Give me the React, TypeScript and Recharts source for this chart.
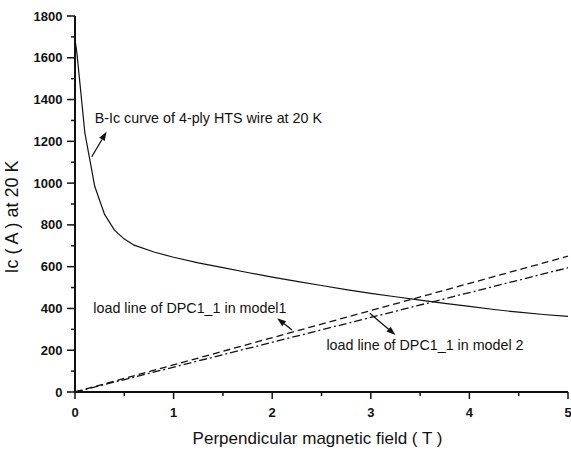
import { Line, LineChart, ReferenceDot, ReferenceLine, XAxis, YAxis } from "recharts";

// B-Ic curve of the 4-ply HTS wire at 20 K
const curveField = [0, 0.02, 0.1, 0.2, 0.3, 0.4, 0.5, 0.6, 0.8, 1.0, 1.25, 1.5, 1.75, 2.0, 2.25, 2.5, 2.75, 3.0, 3.25, 3.5, 3.75, 4.0, 4.25, 4.5, 4.75, 5.0];
const curveIc = [1690, 1620, 1240, 985, 850, 775, 732, 703, 670, 645, 618, 595, 572, 550, 530, 510, 490, 472, 456, 440, 424, 410, 395, 382, 371, 362];

// load lines of DPC1_1
const loadField = [0, 5];
const loadModel1 = [0, 650];
const loadModel2 = [0, 595];

const xTicks = [0, 0.5, 1, 1.5, 2, 2.5, 3, 3.5, 4, 4.5, 5];
const yTicks = [0, 100, 200, 300, 400, 500, 600, 700, 800, 900, 1000, 1100, 1200, 1300, 1400, 1500, 1600, 1700, 1800];

const curveData = curveField.map((field, i) => ({ field, ic: curveIc[i] }));
const model1Data = loadField.map((field, i) => ({ field, ic: loadModel1[i] }));
const model2Data = loadField.map((field, i) => ({ field, ic: loadModel2[i] }));

const notes = [
  { text: "B-Ic curve of 4-ply HTS wire at 20 K", at: [0.2, 1288], from: [0.17, 1126], to: [0.32, 1246] },
  { text: "load line of DPC1_1 in model1", at: [0.186, 380], from: [2.2, 297], to: [2.05, 353] },
  { text: "load line of DPC1_1 in model 2", at: [2.55, 201], from: [2.99, 377], to: [3.25, 273] },
];

const font = "Arial, 'Liberation Sans', sans-serif";
const ink = "#111";

function BottomTick({ x, y, payload }: any) {
  const major = Number.isInteger(payload.value);
  return (
    <g>
      <line x1={x} x2={x} y1={y} y2={y + (major ? 7 : 4)} stroke={ink} strokeWidth={1.5} />
      {major && (
        <text x={x} y={y + 25} textAnchor="middle" fontFamily={font} fontWeight="bold" fontSize={13} fill={ink}>
          {payload.value}
        </text>
      )}
    </g>
  );
}

function TopTick({ x, y, payload }: any) {
  const major = Number.isInteger(payload.value);
  return <line x1={x} x2={x} y1={y} y2={y + (major ? 7 : 4)} stroke={ink} strokeWidth={1.2} />;
}

function LeftTick({ x, y, payload }: any) {
  const major = payload.value % 200 === 0;
  return (
    <g>
      <line x1={x - (major ? 8 : 4)} x2={x} y1={y} y2={y} stroke={ink} strokeWidth={1.5} />
      {major && (
        <text x={x - 12.5} y={y + 4.5} textAnchor="end" fontFamily={font} fontWeight="bold" fontSize={13} fill={ink}>
          {payload.value}
        </text>
      )}
    </g>
  );
}

function RightTick({ x, y, payload }: any) {
  const major = payload.value % 200 === 0;
  return <line x1={x - (major ? 6 : 4)} x2={x} y1={y} y2={y} stroke={ink} strokeWidth={1.2} />;
}

function Arrow({ x1, y1, x2, y2 }: any) {
  const a = Math.atan2(y2 - y1, x2 - x1);
  const len = 9;
  const half = 3.2;
  const bx = x2 - len * Math.cos(a);
  const by = y2 - len * Math.sin(a);
  const px = -Math.sin(a) * half;
  const py = Math.cos(a) * half;
  return (
    <g>
      <line x1={x1} y1={y1} x2={bx} y2={by} stroke={ink} strokeWidth={1.3} />
      <polygon points={`${x2},${y2} ${bx + px},${by + py} ${bx - px},${by - py}`} fill={ink} />
    </g>
  );
}

export default function App() {
  return (
    <div style={{ position: "absolute", left: 0, top: 0, background: "#fff" }}>
      <LineChart width={571} height={450} margin={{ top: 16, right: 3, left: 0, bottom: 0 }}>
        <XAxis
          type="number"
          dataKey="field"
          domain={[0, 5]}
          ticks={xTicks}
          interval={0}
          height={58}
          tickSize={0}
          tickMargin={0}
          tickLine={false}
          tick={<BottomTick />}
          axisLine={{ stroke: ink, strokeWidth: 2 }}
          label={{
            content: ({ viewBox }: any) => (
              <text x={viewBox.x + viewBox.width / 2 - 4} y={viewBox.y + 52} textAnchor="middle" fontFamily={font} fontSize={17} fill={ink}>
                Perpendicular magnetic field ( T )
              </text>
            ),
          }}
        />
        <XAxis
          xAxisId="top"
          orientation="top"
          type="number"
          dataKey="field"
          domain={[0, 5]}
          ticks={xTicks}
          interval={0}
          height={0}
          tickSize={0}
          tickMargin={0}
          tickLine={false}
          tick={<TopTick />}
          axisLine={{ stroke: ink, strokeWidth: 1.5 }}
        />
        <YAxis
          type="number"
          domain={[0, 1800]}
          ticks={yTicks}
          interval={0}
          width={75}
          tickSize={0}
          tickMargin={0}
          tickLine={false}
          tick={<LeftTick />}
          axisLine={{ stroke: ink, strokeWidth: 2 }}
          label={{
            content: ({ viewBox }: any) => {
              const cx = viewBox.x + 18;
              const cy = viewBox.y + viewBox.height / 2 + 13;
              return (
                <text x={cx} y={cy} transform={`rotate(-90 ${cx} ${cy})`} textAnchor="middle" fontFamily={font} fontSize={18} fill={ink}>
                  Ic ( A ) at 20 K
                </text>
              );
            },
          }}
        />
        <YAxis
          yAxisId="right"
          orientation="right"
          type="number"
          domain={[0, 1800]}
          ticks={yTicks}
          interval={0}
          width={0}
          tickSize={0}
          tickMargin={0}
          tickLine={false}
          tick={<RightTick />}
          axisLine={{ stroke: ink, strokeWidth: 1.5 }}
        />
        <Line data={curveData} dataKey="ic" type="linear" stroke={ink} strokeWidth={1.2} dot={false} isAnimationActive={false} />
        <Line data={model1Data} dataKey="ic" type="linear" stroke={ink} strokeWidth={1.3} strokeDasharray="7 4" dot={false} isAnimationActive={false} />
        <Line data={model2Data} dataKey="ic" type="linear" stroke={ink} strokeWidth={1.3} strokeDasharray="8 3 2 3" dot={false} isAnimationActive={false} />
        {notes.map((n) => (
          <ReferenceLine
            key={n.text + "-arrow"}
            segment={[{ x: n.from[0], y: n.from[1] }, { x: n.to[0], y: n.to[1] }]}
            shape={(p: any) => <Arrow {...p} />}
          />
        ))}
        {notes.map((n) => (
          <ReferenceDot
            key={n.text}
            x={n.at[0]}
            y={n.at[1]}
            r={0}
            shape={(p: any) => (
              <text x={p.cx} y={p.cy} fontFamily={font} fontSize={14.3} fill={ink}>
                {n.text}
              </text>
            )}
          />
        ))}
      </LineChart>
    </div>
  );
}
